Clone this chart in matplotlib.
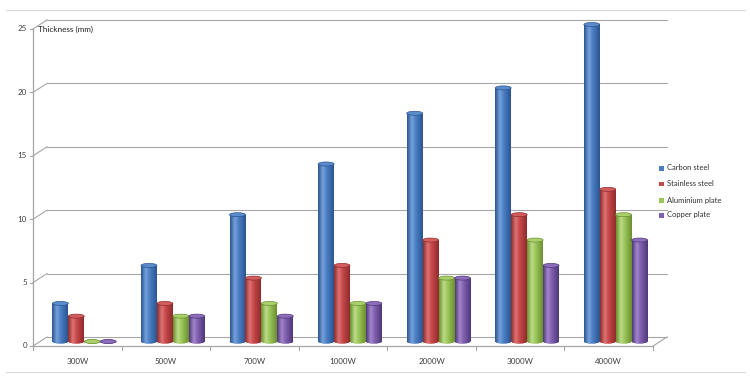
import matplotlib
matplotlib.use("Agg")
import matplotlib.pyplot as plt
import numpy as np
from matplotlib.transforms import offset_copy
from matplotlib.patches import Ellipse, Rectangle
from matplotlib.lines import Line2D
from matplotlib.colors import LinearSegmentedColormap

categories = ["300W", "500W", "700W", "1000W", "2000W", "3000W", "4000W"]
series_names = ["Carbon steel", "Stainless steel", "Aluminium plate", "Copper plate"]
carbon_steel = [3, 6, 10, 14, 18, 20, 25]
stainless_steel = [2, 3, 5, 6, 8, 10, 12]
aluminium_plate = [0, 2, 3, 3, 5, 8, 10]
copper_plate = [0, 2, 2, 3, 5, 6, 8]
y_ticks = [0, 5, 10, 15, 20, 25]

series = [carbon_steel, stainless_steel, aluminium_plate, copper_plate]
# (dark, base, light, top)
palettes = [
    ("#2c5590", "#4a7ec4", "#74a1da", "#5b8ccc"),
    ("#8e2c2c", "#c8474a", "#dc7474", "#d25c5e"),
    ("#6a8f30", "#9bc65a", "#bcdc88", "#a9d06a"),
    ("#4f3878", "#7f5fae", "#a386cc", "#8d6cbb"),
]
legend_colors = ["#4a7ec4", "#c8474a", "#9bc65a", "#7f5fae"]

W, H = 750, 388
fig = plt.figure(figsize=(W / 100, H / 100), dpi=100)
fig.patch.set_facecolor("white")

x0, x1, y0, y1 = 33, 653, 346, 29
px_per_unit = (y0 - y1) / 25.0
YMAX = 27
ytop = y0 - YMAX * px_per_unit
ax = fig.add_axes([x0 / W, (H - y0) / H, (x1 - x0) / W, (y0 - ytop) / H])
ax.set_xlim(0, len(categories))
ax.set_ylim(0, YMAX)
ax.axis("off")

DX, DY = 14, 9
back = offset_copy(ax.transData, fig=fig, x=DX, y=DY, units="dots")
mid = offset_copy(ax.transData, fig=fig, x=DX / 2, y=DY / 2, units="dots")
ident = matplotlib.transforms.IdentityTransform()

grid_c = "#a6a6a6"
n = len(categories)
# back wall gridlines and diagonals
for v in y_ticks:
    ax.plot([0, n], [v, v], color=grid_c, lw=0.8, transform=back, clip_on=False, zorder=1)
    p0 = ax.transData.transform((0, v))
    fig.add_artist(Line2D([p0[0], p0[0] + DX], [p0[1], p0[1] + DY], color=grid_c, lw=0.8,
                          transform=ident))
    fig.add_artist(Line2D([p0[0] - 3, p0[0]], [p0[1], p0[1]], color=grid_c, lw=0.8,
                          transform=ident))
    ax.text(0, v, str(v), ha="right", va="center", fontsize=5.8, color="#404040",
            family="Lato",
            transform=offset_copy(ax.transData, fig=fig, x=-6, y=0, units="dots"))

# front y-axis and floor
ax.plot([0, 0], [0, 25], color=grid_c, lw=0.9, clip_on=False, zorder=1)
ax.plot([0, n], [0, 0], color=grid_c, lw=0.9, clip_on=False, zorder=1)
pr = ax.transData.transform((n, 0))
fig.add_artist(Line2D([pr[0], pr[0] + DX], [pr[1], pr[1] + DY], color=grid_c, lw=0.8,
                      transform=ident))
for k in range(n + 1):
    pk = ax.transData.transform((k, 0))
    fig.add_artist(Line2D([pk[0], pk[0]], [pk[1], pk[1] - 4], color=grid_c, lw=0.8,
                          transform=ident))
for k, lab in enumerate(categories):
    ax.text(k + 0.5, 0, lab, ha="center", va="center", fontsize=5.8, color="#404040",
            family="Lato",
            transform=offset_copy(ax.transData, fig=fig, x=0, y=-15, units="dots"))

ax.text(0, 25, "Thickness (mm)", ha="left", va="center", fontsize=5.9, color="#202020",
        family="Lato",
        transform=offset_copy(ax.transData, fig=fig, x=5, y=0, units="dots"))

# cylinders
bw = 0.18
cap_px = 4.0
cap_h = cap_px / px_per_unit
grad = np.linspace(0, 1, 64).reshape(1, -1)
for i, vals in enumerate(series):
    dark, base, light, top = palettes[i]
    cmap = LinearSegmentedColormap.from_list(
        f"c{i}", [(0, dark), (0.3, light), (0.55, base), (1, dark)])
    xs = np.arange(n) + 0.23 + bw * i
    bars = ax.bar(xs, vals, width=bw, color=base, transform=mid, zorder=3, linewidth=0)
    for xc, v, bar in zip(xs, vals, bars):
        e_bot = Ellipse((xc, 0), bw, cap_h, transform=mid, facecolor=base, edgecolor="none",
                        zorder=3)
        ax.add_patch(e_bot)
        im = ax.imshow(grad, cmap=cmap, extent=[xc - bw / 2, xc + bw / 2, -cap_h, 0],
                       transform=mid, aspect="auto", zorder=3.1, interpolation="bilinear")
        im.set_clip_path(e_bot)
        if v > 0:
            im2 = ax.imshow(grad, cmap=cmap, extent=[xc - bw / 2, xc + bw / 2, 0, v],
                            transform=mid, aspect="auto", zorder=3.2, interpolation="bilinear")
            im2.set_clip_path(bar)
        e_top = Ellipse((xc, v), bw, cap_h, transform=mid, facecolor=top, edgecolor=dark,
                        lw=0.5, zorder=3.5)
        ax.add_patch(e_top)

ax.set_xlim(0, n)
ax.set_ylim(0, YMAX)

# legend
leg_y = [168, 184, 200, 215]
for name, c, yy in zip(series_names, legend_colors, leg_y):
    fig.add_artist(Rectangle((659 / W, (H - yy - 2.5) / H), 5 / W, 5 / H, facecolor=c,
                             edgecolor="none", transform=fig.transFigure))
    fig.text(667 / W, (H - yy) / H, name, ha="left", va="center", fontsize=5.5,
             color="#303030", family="Lato")

# frame lines
fig.add_artist(Line2D([6 / W, 745 / W], [(H - 10) / H, (H - 10) / H], color="#d9d9d9",
                      lw=0.8, transform=fig.transFigure))
fig.add_artist(Line2D([6 / W, 745 / W], [(H - 372) / H, (H - 372) / H], color="#d9d9d9",
                      lw=0.8, transform=fig.transFigure))

fig.savefig("out.png", dpi=100, facecolor="white")
